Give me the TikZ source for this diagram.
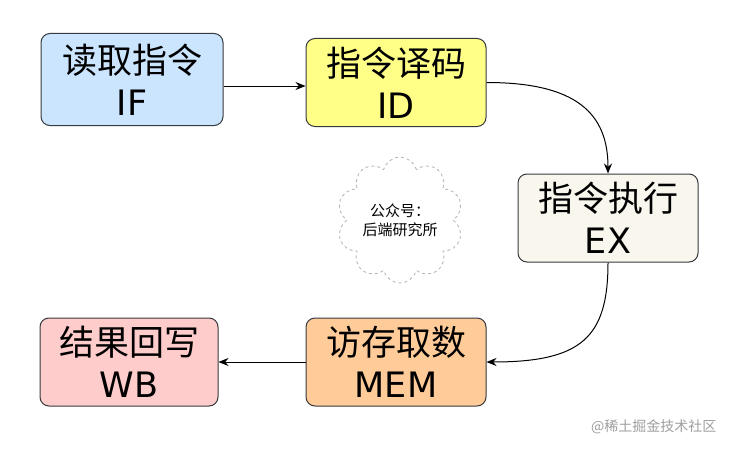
\documentclass[tikz,border=0pt]{standalone}
\usepackage{fontspec}
\setmainfont{Noto Sans CJK SC}
\newfontfamily\latinf{DejaVu Sans}
\usetikzlibrary{arrows.meta,shapes.symbols}
\definecolor{strk}{HTML}{36393D}
\definecolor{cIF}{HTML}{CCE5FF}
\definecolor{cID}{HTML}{FFFF88}
\definecolor{cEX}{HTML}{F9F7ED}
\definecolor{cMEM}{HTML}{FFCC99}
\definecolor{cWB}{HTML}{FFCCCC}
\tikzset{
  stage/.style={draw=strk, line width=1pt, rounded corners=9pt, minimum width=180pt, minimum height=88pt, align=center, inner sep=0pt, font=\fontsize{35}{42}\selectfont},
  conn/.style={-{Stealth[length=10pt,width=8pt]}, line width=1pt, black},
}
\begin{document}
\begin{tikzpicture}[x=1pt,y=1pt]
\useasboundingbox (0,0) rectangle (733,451);
\fill[white] (0,0) rectangle (733,451);
\node[stage, fill=cIF, minimum width=182pt, minimum height=92pt] (IF) at (132,{451-79.5}) {读取指令\\{\latinf IF}};
\node[stage, fill=cID] (ID) at (396,{451-82.5}) {指令译码\\{\latinf ID}};
\node[stage, fill=cEX] (EX) at (608,{451-218}) {指令执行\\{\latinf EX}};
\node[stage, fill=cMEM] (MEM) at (396,{451-362}) {访存取数\\{\latinf MEM}};
\node[stage, fill=cWB, minimum width=178pt] (WB) at (129,{451-362}) {结果回写\\{\latinf WB}};
\draw[conn] (IF.east |- 0,{451-86}) coordinate (a1) -- (ID.west |- a1);
\draw[conn] (ID.east) .. controls +(90,0) and +(0,60) .. (EX.north);
\draw[conn] (EX.south) .. controls +(0,-75) and +(95,0) .. (MEM.east);
\draw[conn] (MEM.west) -- (WB.east);
\node[cloud, cloud puffs=10, draw=gray!60, dashed, line width=0.8pt, minimum width=125pt, minimum height=80pt, align=center, inner sep=0pt, font=\fontsize{15}{19}\selectfont] (cl) at (400,{451-220}) {公众号：\\后端研究所};
\node[text=gray!75, font=\fontsize{14}{16}\selectfont, anchor=east] (wm) at (720,{451-427}) {@稀土掘金技术社区};
\end{tikzpicture}
\end{document}
